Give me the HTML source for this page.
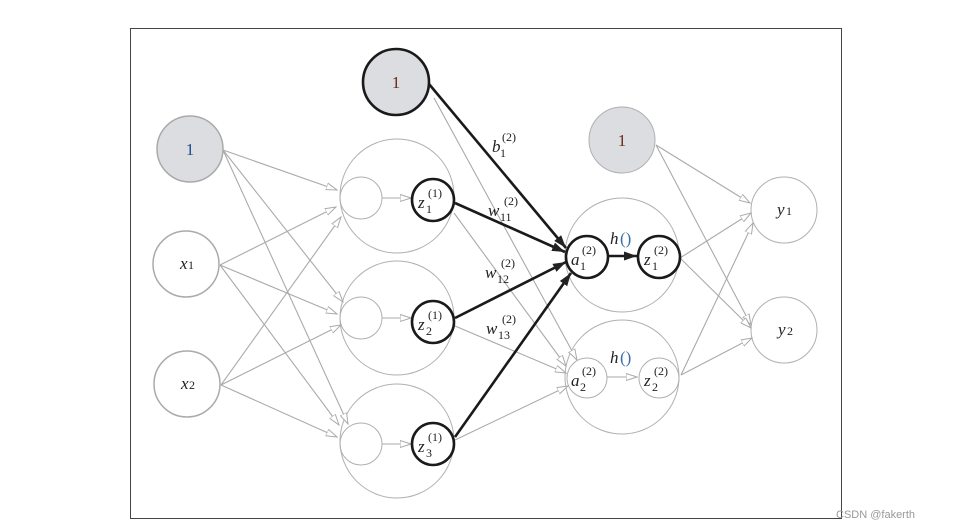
<!DOCTYPE html>
<html><head><meta charset="utf-8"><style>
html,body{margin:0;padding:0;background:#fff;}
svg{display:block;font-family:"Liberation Serif",serif;}
.m{font-style:italic;font-size:17px;fill:#222;}
.s{font-size:12px;fill:#222;}
</style></head><body>
<svg width="953" height="529" viewBox="0 0 953 529">
<defs>
<marker id="ta" markerWidth="12" markerHeight="8" refX="11" refY="4" orient="auto" markerUnits="userSpaceOnUse">
<path d="M0,0.5 L11,4 L0,7.5 Z" fill="#fff" stroke="#aaa" stroke-width="1"/></marker>
<marker id="ba" markerWidth="14" markerHeight="10" refX="13" refY="5" orient="auto" markerUnits="userSpaceOnUse">
<path d="M0,0.5 L13,5 L0,9.5 Z" fill="#222"/></marker>
</defs>
<rect x="130.5" y="28.5" width="711" height="490" fill="#fff" stroke="#444" stroke-width="1"/>
<g fill="none" stroke="#b0b0b0" stroke-width="1">
<circle cx="397" cy="196" r="57"/><circle cx="397" cy="318" r="57"/><circle cx="397" cy="441" r="57"/>
<circle cx="622" cy="255" r="57"/><circle cx="622" cy="377" r="57"/>
<circle cx="361" cy="198" r="21"/><circle cx="361" cy="318" r="21"/><circle cx="361" cy="444" r="21"/>
<circle cx="587" cy="378" r="20"/><circle cx="659" cy="378" r="20"/>
<circle cx="784" cy="210" r="33"/><circle cx="784" cy="330" r="33"/>
</g>
<g stroke="#aaa" stroke-width="1.5" fill="#fff">
<circle cx="186" cy="264" r="33"/><circle cx="187" cy="384" r="33"/>
<circle cx="190" cy="149" r="33" fill="#dcdde0"/>
</g>
<circle cx="622" cy="140" r="33" fill="#dcdde0" stroke="#b0b0b0" stroke-width="1"/>
<g stroke="#aaa" stroke-width="1.1" marker-end="url(#ta)">
<line x1="223" y1="150" x2="337" y2="190"/><line x1="223" y1="150" x2="343" y2="302"/><line x1="223" y1="150" x2="348" y2="424"/>
<line x1="220" y1="265" x2="336" y2="207"/><line x1="220" y1="265" x2="337" y2="314"/><line x1="220" y1="265" x2="339" y2="425"/>
<line x1="221" y1="385" x2="341" y2="217"/><line x1="221" y1="385" x2="341" y2="325"/><line x1="221" y1="385" x2="337" y2="437"/>
<line x1="382" y1="198" x2="411" y2="198"/><line x1="382" y1="318" x2="411" y2="318"/><line x1="382" y1="444" x2="411" y2="444"/>
<line x1="434" y1="98" x2="577" y2="360"/>
<line x1="454" y1="213" x2="566" y2="366"/>
<line x1="455" y1="326" x2="566" y2="373"/>
<line x1="455" y1="440" x2="568" y2="386"/>
<line x1="607" y1="377" x2="637" y2="377"/>
<line x1="656" y1="145" x2="750" y2="203"/><line x1="656" y1="145" x2="751" y2="325"/>
<line x1="680" y1="258" x2="751" y2="213"/><line x1="680" y1="258" x2="751" y2="328"/>
<line x1="681" y1="375" x2="753" y2="223"/><line x1="681" y1="375" x2="752" y2="338"/>
</g>
<g stroke="#1a1a1a" stroke-width="2.6" marker-end="url(#ba)">
<line x1="429" y1="84" x2="566" y2="248"/>
<line x1="455" y1="203" x2="565" y2="252"/>
<line x1="455" y1="318" x2="566" y2="262"/>
<line x1="455" y1="437" x2="571" y2="273"/>
<line x1="608" y1="256" x2="637" y2="256"/>
</g>
<g stroke="#1a1a1a" stroke-width="2.6" fill="#fff">
<circle cx="396" cy="82" r="33" fill="#dcdde0"/>
<circle cx="433" cy="200" r="21"/><circle cx="433" cy="322" r="21"/><circle cx="433" cy="444" r="21"/>
<circle cx="587" cy="257" r="21"/><circle cx="659" cy="257" r="21"/>
</g>
<g font-size="17" text-anchor="middle" fill="#222">
<text x="190" y="155" fill="#1d4e8c">1</text>
<text x="396" y="88" fill="#6b2a1a">1</text>
<text x="622" y="146" fill="#6b2a1a">1</text>
</g>
<text x="180" y="269" class="m">x</text><text x="188" y="269" class="s" font-size="9">1</text>
<text x="181" y="389" class="m">x</text><text x="189" y="389" class="s" font-size="9">2</text>
<text x="777" y="215" class="m">y</text><text x="786" y="215" class="s" font-size="9">1</text>
<text x="778" y="335" class="m">y</text><text x="787" y="335" class="s" font-size="9">2</text>
<g>
<text x="418" y="208" class="m">z</text><text x="426" y="213" class="s">1</text><text x="428" y="197" class="s">(1)</text>
<text x="418" y="330" class="m">z</text><text x="426" y="335" class="s">2</text><text x="428" y="319" class="s">(1)</text>
<text x="418" y="452" class="m">z</text><text x="426" y="457" class="s">3</text><text x="428" y="441" class="s">(1)</text>
<text x="571" y="265" class="m">a</text><text x="580" y="270" class="s">1</text><text x="582" y="254" class="s">(2)</text>
<text x="644" y="265" class="m">z</text><text x="652" y="270" class="s">1</text><text x="654" y="254" class="s">(2)</text>
<text x="571" y="386" class="m">a</text><text x="580" y="391" class="s">2</text><text x="582" y="375" class="s">(2)</text>
<text x="644" y="386" class="m">z</text><text x="652" y="391" class="s">2</text><text x="654" y="375" class="s">(2)</text>
<text x="492" y="152" class="m">b</text><text x="500" y="157" class="s">1</text><text x="502" y="141" class="s">(2)</text>
<text x="488" y="216" class="m">w</text><text x="500" y="221" class="s">11</text><text x="504" y="205" class="s">(2)</text>
<text x="485" y="278" class="m">w</text><text x="497" y="283" class="s">12</text><text x="501" y="267" class="s">(2)</text>
<text x="486" y="334" class="m">w</text><text x="498" y="339" class="s">13</text><text x="502" y="323" class="s">(2)</text>
<text x="610" y="244" class="m">h</text><text x="620" y="244" font-size="17" fill="#3a6ea8">()</text>
<text x="610" y="363" class="m">h</text><text x="620" y="363" font-size="17" fill="#3a6ea8">()</text>
</g>
<text x="836" y="518" font-family="Liberation Sans, sans-serif" font-size="11" fill="#999">CSDN @fakerth</text>
</svg>
</body></html>
